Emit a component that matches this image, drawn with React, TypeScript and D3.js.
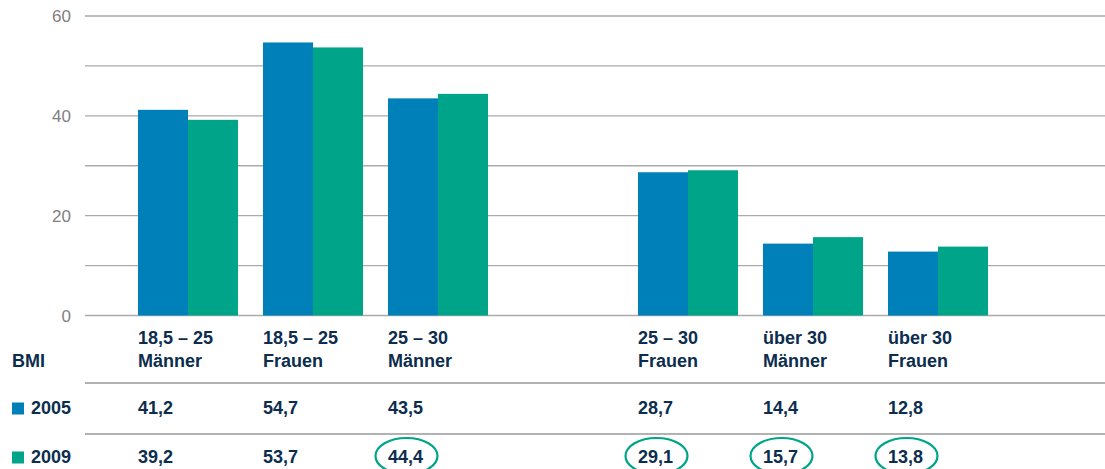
import * as d3 from 'd3'

// BMI groups (two-line labels), an empty slot separates the two halves
const slots = ['m1825', 'f1825', 'm2530', 'gap', 'f2530', 'm30', 'f30']
const categories = [
  { key: 'm1825', line1: '18,5 – 25', line2: 'Männer' },
  { key: 'f1825', line1: '18,5 – 25', line2: 'Frauen' },
  { key: 'm2530', line1: '25 – 30', line2: 'Männer' },
  { key: 'f2530', line1: '25 – 30', line2: 'Frauen' },
  { key: 'm30', line1: 'über 30', line2: 'Männer' },
  { key: 'f30', line1: 'über 30', line2: 'Frauen' },
]
const values2005 = [41.2, 54.7, 43.5, 28.7, 14.4, 12.8]
const values2009 = [39.2, 53.7, 44.4, 29.1, 15.7, 13.8]
const highlight2009 = [false, false, true, true, true, true]
const yTicks = [0, 20, 40, 60]
const gridValues = [0, 10, 20, 30, 40, 50, 60]

const BLUE = '#0080b9'
const GREEN = '#00a489'
const NAVY = '#0c2d4e'
const FONT = '"Liberation Sans", Arial, Helvetica, sans-serif'

const W = 1105
const H = 469

const fmt = (v: number) => v.toFixed(1).replace('.', ',')

export default function App() {
  const x = d3.scaleBand<string>().domain(slots).range([125.5, 1000.5]).paddingInner(0.2).paddingOuter(0.1)
  const sub = d3.scaleBand<string>().domain(['2005', '2009']).range([0, x.bandwidth()])
  const y = d3.scaleLinear().domain([0, 60]).range([315.5, 16])

  const gridX0 = 85
  const gridX1 = W

  const rows = [
    { label: '2005', color: BLUE, values: values2005, baseline: 414, lineY: 383, flags: values2005.map(() => false) },
    { label: '2009', color: GREEN, values: values2009, baseline: 463, lineY: 434, flags: highlight2009 },
  ]

  return (
    <svg width={W} height={H} style={{ position: 'absolute', left: 0, top: 0 }} fontFamily={FONT}>
      {/* gridlines */}
      {gridValues.map(v => (
        <line key={v} x1={gridX0} x2={gridX1} y1={y(v)} y2={y(v)} stroke="#aaaaaa" strokeWidth={1.3} />
      ))}
      {yTicks.map(v => (
        <text key={v} x={71} y={y(v) + 6} textAnchor="end" fontSize={17} fill="#808080">{v}</text>
      ))}

      {/* bars */}
      {categories.map((c, i) => (
        <g key={c.key} transform={`translate(${x(c.key)},0)`}>
          <rect x={sub('2005')} y={y(values2005[i])} width={sub.bandwidth()} height={y(0) - y(values2005[i])} fill={BLUE} />
          <rect x={sub('2009')} y={y(values2009[i])} width={sub.bandwidth()} height={y(0) - y(values2009[i])} fill={GREEN} />
        </g>
      ))}

      {/* category header */}
      <text x={12} y={367} fontSize={18} fontWeight="bold" fill={NAVY}>BMI</text>
      {categories.map(c => (
        <text key={c.key} x={x(c.key)} fontSize={18} fontWeight="bold" fill={NAVY}>
          <tspan x={x(c.key)} y={344}>{c.line1}</tspan>
          <tspan x={x(c.key)} y={367}>{c.line2}</tspan>
        </text>
      ))}

      {/* value table */}
      {rows.map(r => (
        <g key={r.label}>
          <line x1={gridX0} x2={gridX1} y1={r.lineY} y2={r.lineY} stroke="#999999" strokeWidth={1.3} />
          <rect x={12} y={r.baseline - 11.5} width={12} height={12} fill={r.color} />
          <text x={31} y={r.baseline} fontSize={18} fontWeight="bold" fill={NAVY}>{r.label}</text>
          {categories.map((c, i) => {
            const x0 = x(c.key) as number
            return (
              <g key={c.key}>
                {r.flags[i] && (
                  <ellipse cx={x0 + 18.5} cy={r.baseline - 7} rx={31} ry={18} fill="none" stroke={GREEN} strokeWidth={2.2} />
                )}
                <text x={x0} y={r.baseline} fontSize={18} fontWeight="bold" fill={NAVY}>{fmt(r.values[i])}</text>
              </g>
            )
          })}
        </g>
      ))}
    </svg>
  )
}
